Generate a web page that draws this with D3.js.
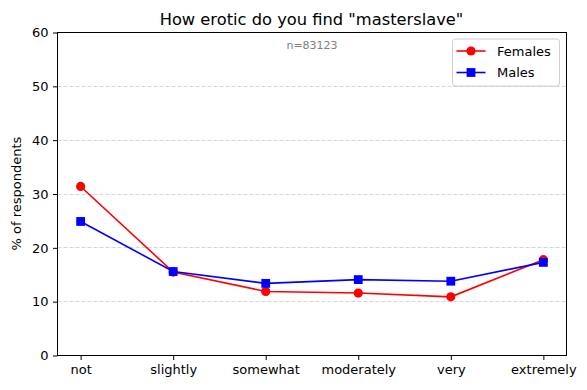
<!DOCTYPE html>
<html lang="en">
<head>
    <meta charset="UTF-8">
    <title>masterslave</title>
    <script src="https://d3js.org/d3.v7.min.js"></script>
    <style>
        body { margin: 0; background: #fff; }
        text { font-family: "DejaVu Sans", sans-serif; }
    </style>
</head>
<body>
    <div id="chart"></div>
    <script>
        const categories = ["not", "slightly", "somewhat", "moderately", "very", "extremely"];
        const females = [31.4, 15.5, 11.9, 11.6, 10.9, 17.8];
        const males = [24.9, 15.6, 13.4, 14.1, 13.8, 17.3];
        const yTicks = [0, 10, 20, 30, 40, 50, 60];

        const width = 587, height = 390;
        const margin = { top: 32, right: 21, bottom: 35, left: 57 };
        const w = width - margin.left - margin.right;
        const h = height - margin.top - margin.bottom;

        const svg = d3.select("#chart").append("svg")
            .attr("width", width)
            .attr("height", height);

        const g = svg.append("g")
            .attr("transform", `translate(${margin.left + 0.5}, ${margin.top + 0.5})`);

        // matplotlib style 5% margins around the index positions
        const x = d3.scaleLinear().domain([-0.25, categories.length - 0.75]).range([0, w]);
        const y = d3.scaleLinear().domain([0, 60]).range([h, 0]);

        // grid
        g.selectAll(".grid")
            .data(yTicks.filter(d => d > 0 && d < 60))
            .join("line")
            .attr("x1", 0).attr("x2", w)
            .attr("y1", d => Math.round(y(d))).attr("y2", d => Math.round(y(d)))
            .attr("stroke", "#d6d6d6")
            .attr("stroke-width", 1)
            .attr("stroke-dasharray", "4,2");

        const yAxis = g.append("g")
            .call(d3.axisLeft(y).tickValues(yTicks).tickSize(4.5).tickPadding(4.5));
        const xAxis = g.append("g")
            .attr("transform", `translate(0, ${h})`)
            .call(d3.axisBottom(x).tickValues(d3.range(categories.length))
                .tickFormat(i => categories[i]).tickSize(4.5).tickPadding(5));

        [yAxis, xAxis].forEach(a => {
            a.select(".domain").remove();
            a.selectAll("text").attr("font-size", "13px").attr("fill", "#000")
                .style("font-family", "DejaVu Sans");
            a.selectAll("line").attr("stroke", "#000").attr("stroke-width", 1);
        });

        // frame
        g.append("rect")
            .attr("width", w).attr("height", h)
            .attr("fill", "none").attr("stroke", "#000").attr("stroke-width", 1);

        const line = d3.line().x((d, i) => x(i)).y(d => y(d));

        g.append("path").datum(females)
            .attr("d", line).attr("fill", "none")
            .attr("stroke", "#ff0000").attr("stroke-width", 1.6);
        g.selectAll(".fdot").data(females).join("circle")
            .attr("cx", (d, i) => x(i)).attr("cy", d => y(d))
            .attr("r", 4.6).attr("fill", "#ff0000");

        g.append("path").datum(males)
            .attr("d", line).attr("fill", "none")
            .attr("stroke", "#0000ff").attr("stroke-width", 1.6);
        g.selectAll(".mdot").data(males).join("rect")
            .attr("x", (d, i) => x(i) - 4.4).attr("y", d => y(d) - 4.4)
            .attr("width", 8.8).attr("height", 8.8).attr("fill", "#0000ff");

        // title and n
        svg.append("text")
            .attr("x", margin.left + w / 2).attr("y", 25)
            .attr("text-anchor", "middle")
            .attr("font-size", "16.3px")
            .text('How erotic do you find "masterslave"');

        g.append("text")
            .attr("x", w / 2).attr("y", 16)
            .attr("text-anchor", "middle")
            .attr("font-size", "11px")
            .attr("fill", "#808080")
            .text("n=83123");

        svg.append("text")
            .attr("transform", `translate(21, ${margin.top + h / 2}) rotate(-90)`)
            .attr("text-anchor", "middle")
            .attr("font-size", "13px")
            .text("% of respondents");

        // legend
        const lg = g.append("g").attr("transform", `translate(${w - 114}, 6.5)`);
        lg.append("rect")
            .attr("width", 107).attr("height", 47).attr("rx", 3)
            .attr("fill", "#fff").attr("fill-opacity", 0.8)
            .attr("stroke", "#d0d0d0").attr("stroke-width", 1);
        const series = [
            { name: "Females", color: "#ff0000", shape: "circle" },
            { name: "Males", color: "#0000ff", shape: "square" }
        ];
        series.forEach((s, i) => {
            const yy = 12 + i * 21.5;
            lg.append("line").attr("x1", 4).attr("x2", 33).attr("y1", yy).attr("y2", yy)
                .attr("stroke", s.color).attr("stroke-width", 1.6);
            if (s.shape === "circle") {
                lg.append("circle").attr("cx", 18.5).attr("cy", yy).attr("r", 4.6).attr("fill", s.color);
            } else {
                lg.append("rect").attr("x", 18.5 - 4.4).attr("y", yy - 4.4)
                    .attr("width", 8.8).attr("height", 8.8).attr("fill", s.color);
            }
            lg.append("text").attr("x", 44.5).attr("y", yy + 4.5)
                .attr("font-size", "13px").text(s.name);
        });
    </script>
</body>
</html>
